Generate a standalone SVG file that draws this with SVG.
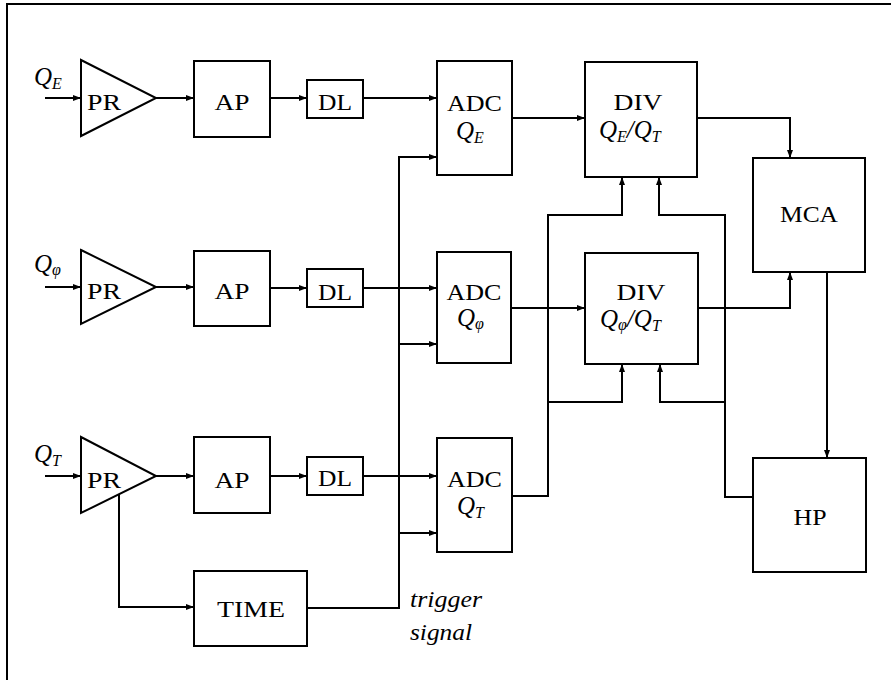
<svg xmlns="http://www.w3.org/2000/svg" width="891" height="680" viewBox="0 0 891 680">
<style>
.b{fill:#fff;stroke:#000;stroke-width:2}
.c{fill:none;stroke:#000;stroke-width:2}
.t{font-family:"Liberation Serif","DejaVu Serif",serif;font-size:24px;fill:#000;text-anchor:middle}
.m{font-family:"Liberation Serif","DejaVu Serif",serif;font-style:italic;font-size:25px;fill:#000}
.s{font-size:16px}
.lab{font-family:"Liberation Serif","DejaVu Serif",serif;font-style:italic;font-size:24px;fill:#000}
</style>
<defs>
<marker id="a" viewBox="0 0 8 6" refX="8" refY="3" markerWidth="8" markerHeight="6" markerUnits="userSpaceOnUse" orient="auto">
<path d="M0,0 L8,3 L0,6 z" fill="#000"/>
</marker>
</defs>
<rect width="891" height="680" fill="#fff"/>
<path class="c" d="M7,680 V4 H891"/>

<g id="connectors" class="c" marker-end="url(#a)">
<path d="M45,98 H81"/>
<path d="M156,98 H194"/>
<path d="M270,98 H307"/>
<path d="M363,98 H437"/>
<path d="M512,118 H585"/>
<path d="M697,118 H790 V158"/>
<path d="M45,287 H81"/>
<path d="M156,287 H194"/>
<path d="M270,288 H307"/>
<path d="M363,288 H437"/>
<path d="M512,308 H585"/>
<path d="M698,308 H790 V272"/>
<path d="M45,476 H81"/>
<path d="M156,476 H194"/>
<path d="M270,476 H307"/>
<path d="M363,476 H437"/>
<path d="M512,496 H548 V215 H622 V177"/>
<path d="M548,402 H622 V364"/>
<path d="M753,497 H725 V215 H659 V177"/>
<path d="M725,402 H660 V364"/>
<path d="M827,272 V458"/>
<path d="M119,494 V607 H194"/>
<path d="M307,608 H399 V157 H437"/>
<path d="M399,344 H437"/>
<path d="M399,533 H437"/>
</g>

<g id="QE">
<text class="m" x="34" y="85">Q<tspan class="s" dy="4">E</tspan></text>
</g>
<g id="PR1"><path class="b" d="M81,60 L156,98 L81,136 Z"/><text class="t" x="104" y="110" textLength="34" lengthAdjust="spacingAndGlyphs">PR</text></g>
<g id="AP1"><rect class="b" x="194" y="61" width="76" height="76"/><text class="t" x="232" y="110" textLength="35" lengthAdjust="spacingAndGlyphs">AP</text></g>
<g id="DL1"><rect class="b" x="307" y="80" width="56" height="38"/><text class="t" x="335" y="110" textLength="34" lengthAdjust="spacingAndGlyphs">DL</text></g>
<g id="ADC1"><rect class="b" x="437" y="61" width="75" height="114"/><text class="t" x="474.5" y="111" textLength="55" lengthAdjust="spacingAndGlyphs">ADC</text><text class="m" x="456" y="139">Q<tspan class="s" dy="4">E</tspan></text></g>
<g id="DIV1"><rect class="b" x="585" y="62" width="112" height="115"/><text class="t" x="638" y="110" textLength="49" lengthAdjust="spacingAndGlyphs">DIV</text><text class="m" x="599" y="138">Q<tspan class="s" dy="4">E</tspan><tspan dy="-4">/Q</tspan><tspan class="s" dy="4">T</tspan></text></g>
<g id="MCA"><rect class="b" x="753" y="158" width="112" height="114"/><text class="t" x="809" y="222" textLength="58" lengthAdjust="spacingAndGlyphs">MCA</text></g>

<g id="Qphi">
<text class="m" x="34" y="272">Q<tspan class="s" dy="3">φ</tspan></text>
</g>
<g id="PR2"><path class="b" d="M81,250 L156,287 L81,324 Z"/><text class="t" x="104" y="299" textLength="34" lengthAdjust="spacingAndGlyphs">PR</text></g>
<g id="AP2"><rect class="b" x="194" y="251" width="76" height="75"/><text class="t" x="232" y="299" textLength="35" lengthAdjust="spacingAndGlyphs">AP</text></g>
<g id="DL2"><rect class="b" x="307" y="269" width="56" height="38"/><text class="t" x="335" y="300" textLength="34" lengthAdjust="spacingAndGlyphs">DL</text></g>
<g id="ADC2"><rect class="b" x="437" y="252" width="74" height="111"/><text class="t" x="474" y="300" textLength="55" lengthAdjust="spacingAndGlyphs">ADC</text><text class="m" x="457" y="326">Q<tspan class="s" dy="3">φ</tspan></text></g>
<g id="DIV2"><rect class="b" x="585" y="253" width="113" height="111"/><text class="t" x="641" y="300" textLength="49" lengthAdjust="spacingAndGlyphs">DIV</text><text class="m" x="600" y="327">Q<tspan class="s" dy="3">φ</tspan><tspan dy="-3">/Q</tspan><tspan class="s" dy="4">T</tspan></text></g>

<g id="QT">
<text class="m" x="34" y="462">Q<tspan class="s" dy="4">T</tspan></text>
</g>
<g id="PR3"><path class="b" d="M81,437 L156,476 L81,513 Z"/><text class="t" x="104" y="488" textLength="34" lengthAdjust="spacingAndGlyphs">PR</text></g>
<g id="AP3"><rect class="b" x="194" y="437" width="76" height="76"/><text class="t" x="232" y="488" textLength="35" lengthAdjust="spacingAndGlyphs">AP</text></g>
<g id="DL3"><rect class="b" x="307" y="457" width="56" height="38"/><text class="t" x="335" y="486" textLength="34" lengthAdjust="spacingAndGlyphs">DL</text></g>
<g id="ADC3"><rect class="b" x="437" y="438" width="75" height="114"/><text class="t" x="474.5" y="487" textLength="55" lengthAdjust="spacingAndGlyphs">ADC</text><text class="m" x="457" y="514">Q<tspan class="s" dy="4">T</tspan></text></g>
<g id="HP"><rect class="b" x="753" y="458" width="113" height="114"/><text class="t" x="810" y="525" textLength="33" lengthAdjust="spacingAndGlyphs">HP</text></g>
<g id="TIME"><rect class="b" x="194" y="571" width="113" height="75"/><text class="t" x="251" y="617" textLength="68" lengthAdjust="spacingAndGlyphs">TIME</text></g>

<g id="trigger-label">
<text class="lab" x="410" y="607" textLength="72" lengthAdjust="spacingAndGlyphs">trigger</text>
<text class="lab" x="410" y="640" textLength="62" lengthAdjust="spacingAndGlyphs">signal</text>
</g>
</svg>
